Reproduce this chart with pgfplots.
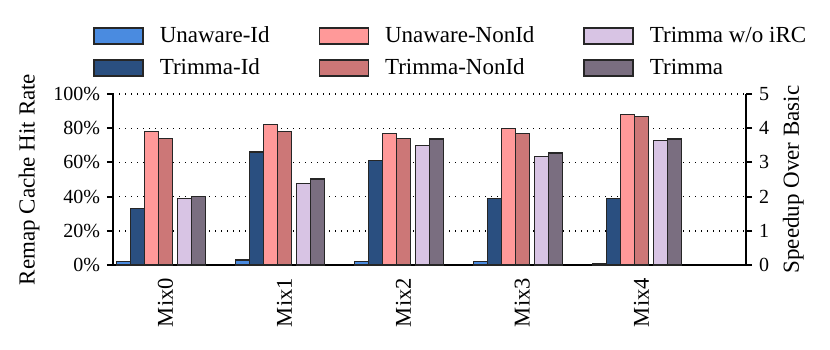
\documentclass[border=0pt]{standalone}
\usepackage{pgfplots}
\pgfplotsset{compat=1.18}
\usepackage{fontspec}
\setmainfont{Liberation Serif}

\definecolor{uid}{HTML}{4A8BE0}
\definecolor{tid}{HTML}{2A4F80}
\definecolor{unon}{HTML}{FF9999}
\definecolor{tnon}{HTML}{CC7777}
\definecolor{tnoirc}{HTML}{D8C4E4}
\definecolor{trim}{HTML}{7A6E80}

\pgfplotsset{
  common/.style={
    scale only axis, width=316.5pt, height=85.5pt,
    at={(0,0)}, anchor=south west,
    xmin=-0.44, xmax=4.88,
    font=\fontsize{10.5}{12}\selectfont,
    /pgf/number format/assume math mode=true,
    axis line style={line width=1pt},
    tick align=outside, major tick length=3pt,
    tick style={line width=1pt, black},
    ybar, bar width=0.1176,
    every axis plot/.append style={draw=black!85, line width=0.7pt},
    ylabel style={font=\fontsize{11.5}{13}\selectfont},
  },
  swatch/.style={legend image code/.code={%
    \draw[##1] (0pt,-4pt) rectangle (24.5pt,4pt);
    \path (30.5pt,0pt);}},
}

\begin{document}
\begin{tikzpicture}
\useasboundingbox (-56.5pt,-42pt) rectangle (358.5pt,132.5pt);

% hit rate (left axis)
\begin{axis}[common,
  axis lines*=left,
  ymin=0, ymax=100,
  ytick={0,20,40,60,80,100},
  yticklabel={\pgfmathprintnumber{\tick}\%},
  y tick label style={font=\fontsize{10}{12}\selectfont},
  xtick={0,1,2,3,4},
  xticklabels={Mix0,Mix1,Mix2,Mix3,Mix4},
  x tick label style={rotate=90, anchor=east, font=\fontsize{11.3}{13}\selectfont},
  major x tick style={draw=none},
  ymajorgrids,
  grid style={black, line width=0.7pt, dash pattern=on 0.7pt off 2.3pt},
  ylabel={Remap Cache Hit Rate},
]
\addplot[fill=uid, bar shift=-0.353] coordinates {(0,2) (1,3) (2,2) (3,2) (4,0.8)};
\addplot[fill=tid, bar shift=-0.235] coordinates {(0,33) (1,66) (2,61) (3,39) (4,39)};
\addplot[fill=unon, bar shift=-0.118] coordinates {(0,78) (1,82) (2,77) (3,80) (4,88)};
\addplot[fill=tnon, bar shift=0] coordinates {(0,74) (1,78) (2,74) (3,77) (4,87)};
\end{axis}

% speedup (right axis)
\begin{axis}[common,
  axis y line*=right, axis x line=none,
  ymin=0, ymax=5,
  ytick={0,1,2,3,4,5},
  y tick label style={font=\fontsize{10}{12}\selectfont},
  ylabel={Speedup Over Basic},
  legend columns=3,
  legend cell align=left,
  swatch,
  legend style={draw=none, fill=none, at={(axis description cs:0,1)}, anchor=south west,
    xshift=-10pt, yshift=6pt, inner sep=0pt,
    font=\fontsize{11.5}{13}\selectfont,
    /tikz/every even column/.append style={column sep=22.5pt},
    row sep=2.5pt},
]
\addlegendimage{fill=uid, draw=black!85, line width=0.7pt}
\addlegendentry{Unaware-Id}
\addlegendimage{fill=unon, draw=black!85, line width=0.7pt}
\addlegendentry{Unaware-NonId}
\addlegendimage{fill=tnoirc, draw=black!85, line width=0.7pt}
\addlegendentry{Trimma w/o iRC}
\addlegendimage{fill=tid, draw=black!85, line width=0.7pt}
\addlegendentry{Trimma-Id}
\addlegendimage{fill=tnon, draw=black!85, line width=0.7pt}
\addlegendentry{Trimma-NonId}
\addlegendimage{fill=trim, draw=black!85, line width=0.7pt}
\addlegendentry{Trimma}
\addplot[fill=tnoirc, bar shift=0.160, forget plot] coordinates {(0,1.94) (1,2.38) (2,3.49) (3,3.18) (4,3.64)};
\addplot[fill=trim, bar shift=0.277, forget plot] coordinates {(0,2.00) (1,2.52) (2,3.68) (3,3.27) (4,3.69)};
\end{axis}
\end{tikzpicture}
\end{document}
